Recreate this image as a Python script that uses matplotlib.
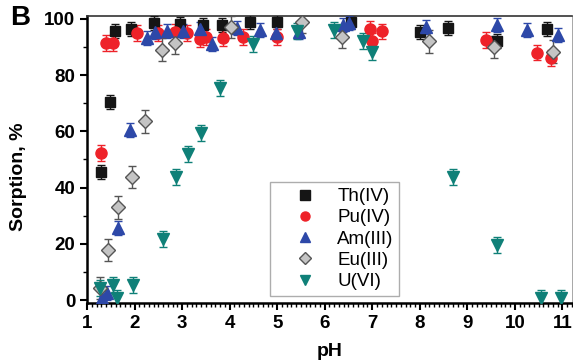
import numpy as np
import matplotlib
matplotlib.use('Agg')
import matplotlib.pyplot as plt
from matplotlib.ticker import MultipleLocator
from matplotlib.lines import Line2D

plt.rcParams['font.family'] = ['Liberation Sans', 'DejaVu Sans']

# Th(IV)
th_ph = [1.3, 1.48, 1.59, 1.92, 2.41, 2.95, 3.44, 3.83, 4.42, 5.0, 6.55, 8.0, 8.6, 9.63, 10.68]
th_val = [45.5, 70.5, 95.5, 96.5, 98.6, 98.2, 97.9, 97.9, 99, 99, 98.8, 95.4, 96.8, 92, 96.5]
# Pu(IV)
pu_ph = [1.3, 1.4, 1.55, 2.05, 2.49, 2.85, 3.1, 3.37, 3.5, 3.86, 4.28, 5.0, 6.95, 7.0, 7.2, 9.4, 10.47, 10.77]
pu_val = [52.3, 91.5, 91.5, 95, 95, 95.4, 95, 92.9, 93.6, 93.2, 93.6, 93.6, 96.5, 92, 95.5, 92.5, 88, 86]
# Am(III)
am_ph = [1.31, 1.42, 1.65, 1.9, 2.26, 2.43, 2.68, 3.02, 3.37, 3.62, 4.15, 4.63, 4.97, 5.45, 6.38, 6.52, 8.14, 9.63, 10.26, 10.9]
am_val = [0.7, 2.5, 25.6, 60.5, 93, 95.4, 95.8, 95.8, 96.4, 91, 96.8, 96.1, 95, 95.4, 97.9, 98.6, 97.2, 97.9, 96, 94.3]
# Eu(III)
eu_ph = [1.27, 1.44, 1.65, 1.95, 2.22, 2.58, 2.85, 4.02, 5.52, 6.36, 8.2, 9.57, 10.8]
eu_val = [4.3, 17.8, 33, 43.8, 63.5, 89, 91.4, 97, 99, 93.6, 92, 90, 88.3]
# U(VI)
u_ph = [1.27, 1.55, 1.63, 1.97, 2.6, 2.87, 3.12, 3.4, 3.8, 4.49, 5.41, 6.2, 6.8, 7.0, 8.69, 9.63, 10.56, 10.98]
u_val = [4.3, 5.4, 0.7, 5.4, 21.8, 43.8, 52, 59.4, 75.4, 91, 95.6, 96, 92, 88.3, 43.8, 19.6, 0.7, 0.7]

# error bar half-widths
th_err, pu_err, am_err, eu_err, u_err = 2.5, 2.8, 2.5, 4.0, 2.8

series = [
    ('Th(IV)', th_ph, th_val, th_err, 's', '#151515', '#151515', 7),
    ('Pu(IV)', pu_ph, pu_val, pu_err, 'o', '#ee2229', '#ee2229', 8),
    ('Am(III)', am_ph, am_val, am_err, '^', '#2d48a8', '#2d48a8', 8.5),
    ('Eu(III)', eu_ph, eu_val, eu_err, 'D', '#c4c4c4', '#555555', 7),
    ('U(VI)', u_ph, u_val, u_err, 'v', '#0f8078', '#0f8078', 8.5),
]

fig = plt.figure(figsize=(5.73, 3.62), dpi=100)
ax = fig.add_axes([0.152, 0.163, 0.846, 0.793])

handles = []
for name, x, y, e, m, fc, ec, ms in series:
    ax.errorbar(x, y, yerr=e, fmt=m, ms=ms, mfc=fc, mec=ec, mew=1.0,
                ecolor=ec, elinewidth=1.0, capsize=3, capthick=1.0, zorder=3)
    handles.append(Line2D([], [], ls='none', marker=m, ms=6.5, mfc=fc, mec=ec,
                          mew=1.0, label=name))

ax.set_xlim(1, 11.2)
ax.set_ylim(-1, 101)
ax.xaxis.set_major_locator(MultipleLocator(1))
ax.xaxis.set_minor_locator(MultipleLocator(0.1))
ax.yaxis.set_major_locator(MultipleLocator(20))
ax.yaxis.set_minor_locator(MultipleLocator(10))
ax.tick_params(which='major', direction='out', length=5, width=1.5, labelsize=13.5)
ax.tick_params(which='minor', direction='out', length=3, width=1.0)
for lab in ax.get_xticklabels() + ax.get_yticklabels():
    lab.set_fontweight('bold')

ax.spines['left'].set_linewidth(1.8)
ax.spines['bottom'].set_linewidth(1.8)
ax.spines['top'].set_linewidth(1.2)
ax.spines['right'].set_linewidth(0.6)
ax.spines['top'].set_color('#333333')
ax.spines['right'].set_color('#999999')

ax.set_xlabel('pH', fontsize=14, fontweight='bold', labelpad=8)
ax.set_ylabel('Sorption, %', fontsize=14, fontweight='bold')
ax.yaxis.set_label_coords(-0.125, 0.44)

leg = ax.legend(handles=handles, loc='upper left', bbox_to_anchor=(0.377, 0.42),
                fontsize=13.5, frameon=True, fancybox=False, edgecolor='#999999',
                handletextpad=0.1, labelspacing=0.22, borderpad=0.3,
                handlelength=3.2, borderaxespad=0)
leg.get_frame().set_linewidth(1.0)

fig.text(0.018, 0.985, 'B', fontsize=20, fontweight='bold', va='top', ha='left')

fig.savefig('out.png', dpi=100)
